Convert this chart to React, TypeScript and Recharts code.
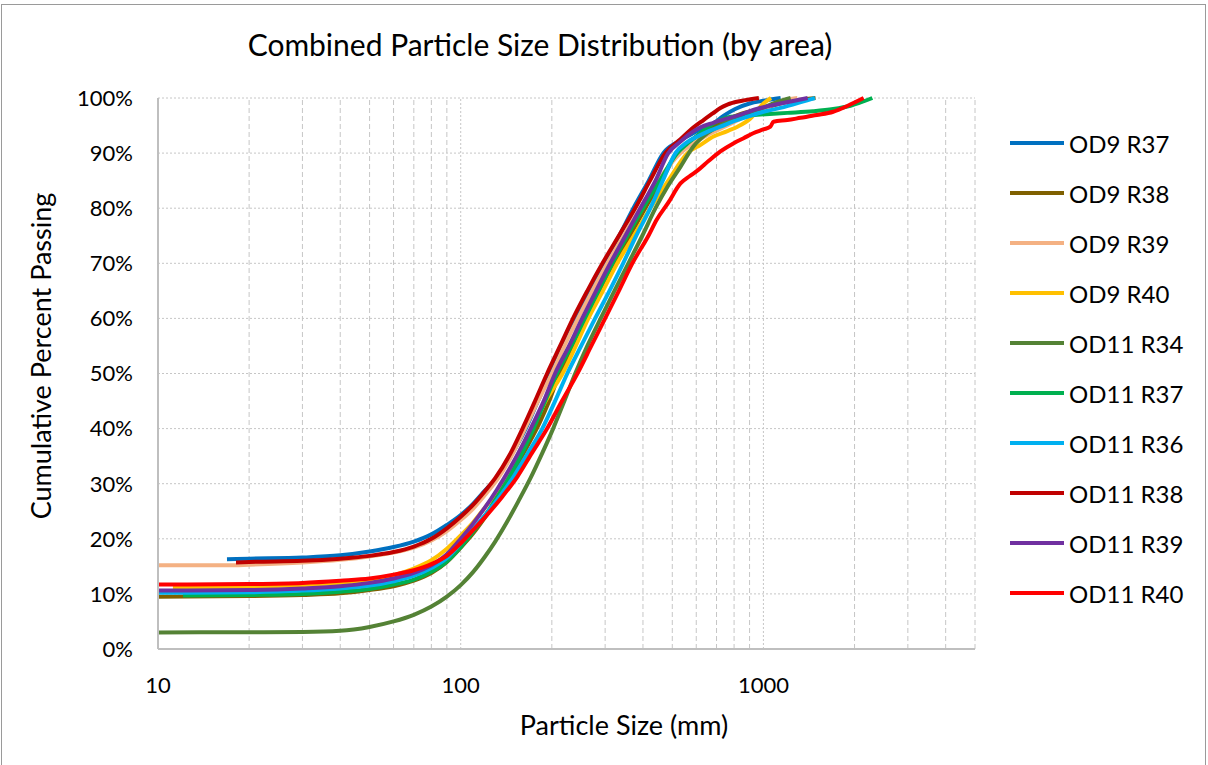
import React from "react";
import { LineChart, Line, XAxis, YAxis, CartesianGrid, ReferenceLine } from "recharts";

const seriesNames = ["OD9 R37", "OD9 R38", "OD9 R39", "OD9 R40", "OD11 R34", "OD11 R37", "OD11 R36", "OD11 R38", "OD11 R39", "OD11 R40"];
const seriesColors = ["#0070C0", "#7F6000", "#F4B183", "#FFC000", "#548235", "#00B050", "#00B0F0", "#C00000", "#7030A0", "#FF0000"];

const od9r37Size = [16.9, 20, 30, 40, 50, 60, 70, 80, 90, 100, 110, 120, 132, 147, 164, 180, 198, 218, 239, 266, 298, 334, 372, 418, 467, 520, 560, 620, 668, 740, 807, 900, 1000, 1140];
const od9r37Pct = [16.3, 16.4, 16.6, 17.0, 17.7, 18.5, 19.5, 20.8, 22.5, 24.3, 26.4, 28.7, 31.2, 35.2, 40, 45, 50, 55, 60, 65, 70, 75, 80, 85, 90, 92, 93, 94.3, 95, 96.8, 98, 99, 99.5, 100];

const od9r38Size = [10, 20, 30, 40, 50, 60, 70, 80, 90, 100, 110, 120, 134, 150, 166, 182, 196, 212, 235, 260, 290, 322, 362, 407, 460, 519, 600, 694, 830, 977, 1200, 1486];
const od9r38Pct = [9.5, 9.6, 9.8, 10.1, 10.7, 11.4, 12.4, 13.8, 15.8, 18.4, 21.0, 23.8, 27.8, 32.4, 36.8, 41.0, 45, 50, 55, 60, 65, 70, 75, 80, 85, 90, 93, 95, 97, 98, 99.3, 100];

const od9r39Size = [10, 17, 20, 30, 40, 50, 60, 70, 80, 90, 100, 110, 120, 133, 148, 163, 180, 200, 220, 244, 272, 305, 345, 392, 455, 532, 640, 760, 900, 1000, 1140, 1295];
const od9r39Pct = [15.2, 15.2, 15.3, 15.7, 16.2, 16.8, 17.5, 18.4, 19.7, 21.4, 23.4, 25.5, 27.9, 31.0, 35.3, 40, 45, 50, 55, 60, 65, 70, 75, 80, 85.5, 90, 93, 95, 97, 98, 99.4, 100];

const od9r40Size = [11.2, 20, 30, 40, 50, 60, 70, 80, 90, 100, 110, 120, 135, 152, 171, 193, 217, 240, 264, 295, 329, 373, 423, 485, 561, 620, 684, 760, 821, 906, 1000, 1060];
const od9r40Pct = [11.1, 11.3, 11.6, 12.0, 12.6, 13.4, 14.6, 16.1, 18.2, 20.6, 23.0, 25.6, 29.3, 34.5, 40, 45.5, 50, 55, 60, 65, 70, 75, 80, 85, 90, 91.5, 93, 94, 94.8, 96.3, 99, 100];

const od11r34Size = [10, 20, 30, 40, 50, 60, 70, 80, 90, 100, 110, 120, 130, 142, 155, 170, 184, 202, 220, 239, 262, 290, 322, 358, 398, 440, 482, 532, 587, 653, 720, 778, 870, 977, 1100, 1230];
const od11r34Pct = [3.0, 3.05, 3.1, 3.3, 4.0, 5.0, 6.2, 7.7, 9.5, 11.6, 14.0, 16.7, 19.5, 23.0, 26.8, 31.0, 35.0, 40, 45, 50, 55, 60, 65, 70, 75, 80, 83.9, 87.5, 91.2, 93.6, 95, 96, 97.2, 98, 99.2, 100];

const od11r37Size = [12.1, 20, 30, 40, 50, 60, 70, 80, 90, 100, 110, 120, 132, 146, 160, 174, 190, 208, 232, 257, 285, 317, 355, 400, 455, 519, 560, 600, 668, 720, 778, 870, 977, 1200, 1460, 1700, 1940, 2290];
const od11r37Pct = [9.7, 9.8, 10.0, 10.4, 10.9, 11.7, 12.6, 14.0, 15.9, 18.5, 21.3, 24.1, 27.6, 31.6, 35.7, 40, 45, 50, 55, 60, 65, 70, 75, 80, 85, 90, 91.7, 93, 95, 96.0, 96.6, 96.8, 97.0, 97.3, 97.6, 98.0, 98.6, 100];

const od11r36Size = [10, 20, 30, 40, 50, 60, 70, 80, 90, 100, 110, 122, 135, 150, 166, 186, 205, 225, 250, 278, 310, 344, 380, 423, 465, 512, 560, 605, 660, 721, 800, 885, 1000, 1138, 1396, 1480];
const od11r36Pct = [10.2, 10.3, 10.6, 11.0, 11.5, 12.3, 13.3, 14.7, 16.5, 19.2, 21.8, 24.7, 27.8, 31.4, 35.4, 40, 45, 50, 55, 60, 65, 70, 75, 80, 85, 90, 92, 93, 94, 94.8, 95.8, 96.6, 97.5, 98.2, 99.6, 100];

const od11r38Size = [18.1, 20, 30, 40, 50, 60, 70, 80, 90, 100, 110, 120, 130, 145, 160, 176, 193, 213, 235, 262, 294, 333, 377, 422, 474, 532, 574, 634, 680, 721, 760, 850, 966];
const od11r38Pct = [15.7, 15.8, 16.0, 16.4, 16.9, 17.6, 18.6, 20.0, 21.9, 24.0, 26.2, 28.6, 31.0, 35.2, 40, 45, 50, 55, 60, 65, 70, 75, 80, 85, 90, 92.5, 94.2, 96.0, 97.2, 98.2, 98.8, 99.5, 100];

const od11r39Size = [10, 20, 30, 40, 50, 60, 70, 80, 90, 100, 110, 120, 132, 146, 160, 172, 188, 205, 228, 252, 280, 312, 350, 392, 440, 485, 530, 574, 620, 684, 750, 822, 950, 1138, 1400];
const od11r39Pct = [10.6, 10.7, 11.0, 11.4, 12.0, 12.8, 13.8, 15.2, 17.2, 20.0, 22.8, 25.6, 29.0, 33.0, 37.0, 40.5, 45, 50, 55, 60, 65, 70, 75, 80, 85, 90, 92, 93.6, 94.7, 95.5, 96.2, 96.8, 98, 99, 100];

const od11r40Size = [10, 20, 30, 40, 50, 60, 70, 80, 90, 100, 110, 122, 137, 154, 172, 193, 216, 243, 270, 300, 333, 369, 417, 444, 485, 532, 570, 608, 660, 721, 798, 860, 925, 1000, 1054, 1080, 1200, 1325, 1500, 1700, 1900, 2143];
const od11r40Pct = [11.7, 11.8, 12.0, 12.4, 12.8, 13.5, 14.3, 15.4, 16.9, 19.2, 21.6, 24.3, 27.6, 31.3, 35.6, 40, 45, 50, 55, 60, 65, 70, 75, 77.9, 81, 84.5, 85.8, 86.9, 88.6, 90.3, 91.8, 92.7, 93.6, 94.3, 94.8, 95.7, 96.0, 96.4, 96.9, 97.5, 98.6, 100];

const xTicks = [10, 100, 1000];
const yTicks = [0, 10, 20, 30, 40, 50, 60, 70, 80, 90, 100];
const minorX = [20, 30, 40, 50, 60, 70, 80, 90, 200, 300, 400, 500, 600, 700, 800, 900, 2000, 3000, 4000, 5000];
const majorX = [100, 1000];

const sizes = [od9r37Size, od9r38Size, od9r39Size, od9r40Size, od11r34Size, od11r37Size, od11r36Size, od11r38Size, od11r39Size, od11r40Size];
const pcts = [od9r37Pct, od9r38Pct, od9r39Pct, od9r40Pct, od11r34Pct, od11r37Pct, od11r36Pct, od11r38Pct, od11r39Pct, od11r40Pct];

const seriesData = sizes.map((s, i) => s.map((x, j) => ({ x, y: pcts[i][j] })));

const FONT = "Lato, 'Open Sans', sans-serif";
const gridColor = "#c6c6c6";

export default function App() {
  return (
    <div style={{ position: "absolute", left: 0, top: 0, width: 1208, height: 765, background: "#fff", overflow: "hidden", fontFamily: FONT }}>
      <div style={{ position: "absolute", left: 1, top: 4, width: 1203, height: 800, border: "1px solid #9a9a9a" }} />
      <LineChart width={1208} height={765} margin={{ top: 98, right: 233, bottom: 56, left: 78 }}>
        <CartesianGrid vertical={false} stroke={gridColor} strokeDasharray="2 2" />
        {minorX.map((v) => (
          <ReferenceLine key={"m" + v} x={v} stroke={gridColor} strokeWidth={1} strokeDasharray="5 3" />
        ))}
        {majorX.map((v) => (
          <ReferenceLine key={"M" + v} x={v} stroke={gridColor} strokeWidth={1} strokeDasharray="2 2" />
        ))}
        <XAxis
          type="number"
          dataKey="x"
          scale="log"
          domain={[10, 5000]}
          ticks={xTicks}
          allowDataOverflow
          axisLine={{ stroke: "#bfbfbf", strokeWidth: 2 }}
          tickLine={false}
          tick={{ fill: "#000", fontSize: 22, fontFamily: FONT }}
          tickMargin={22}
          height={60}
        />
        <YAxis
          type="number"
          domain={[0, 100]}
          ticks={yTicks}
          tickFormatter={(v) => `${v}%`}
          axisLine={{ stroke: "#bfbfbf", strokeWidth: 2 }}
          tickLine={false}
          tick={{ fill: "#000", fontSize: 22, fontFamily: FONT }}
          tickMargin={19}
          width={80}
        />
        {seriesData.map((d, i) => (
          <Line
            key={seriesNames[i]}
            data={d}
            dataKey="y"
            name={seriesNames[i]}
            type="monotone"
            stroke={seriesColors[i]}
            strokeWidth={4}
            dot={false}
            isAnimationActive={false}
          />
        ))}
      </LineChart>
      <div style={{ position: "absolute", left: 0, width: 1208, top: 26, textAlign: "center", paddingRight: 128, boxSizing: "border-box", fontSize: 30, color: "#000", whiteSpace: "nowrap" }}>
        Combined Particle Size Distribution (by area)
      </div>
      <div style={{ position: "absolute", left: 324, width: 600, top: 708, textAlign: "center", fontSize: 27, color: "#000" }}>
        Particle Size (mm)
      </div>
      <div style={{ position: "absolute", left: 40, top: 356, width: 0, height: 0 }}>
        <div style={{ position: "absolute", left: 0, top: 0, transform: "translate(-50%, -50%) rotate(-90deg)", fontSize: 27, whiteSpace: "nowrap", color: "#000" }}>
          Cumulative Percent Passing
        </div>
      </div>
      {seriesNames.map((n, i) => (
        <div key={n} style={{ position: "absolute", left: 1010, top: 143 + 50 * i - 15, height: 30, display: "flex", alignItems: "center" }}>
          <svg width={54} height={6} style={{ display: "block" }}>
            <line x1={0} y1={3} x2={54} y2={3} stroke={seriesColors[i]} strokeWidth={4} strokeLinecap="round" />
          </svg>
          <span style={{ marginLeft: 5, fontSize: 24, color: "#000", whiteSpace: "nowrap" }}>{n}</span>
        </div>
      ))}
    </div>
  );
}
